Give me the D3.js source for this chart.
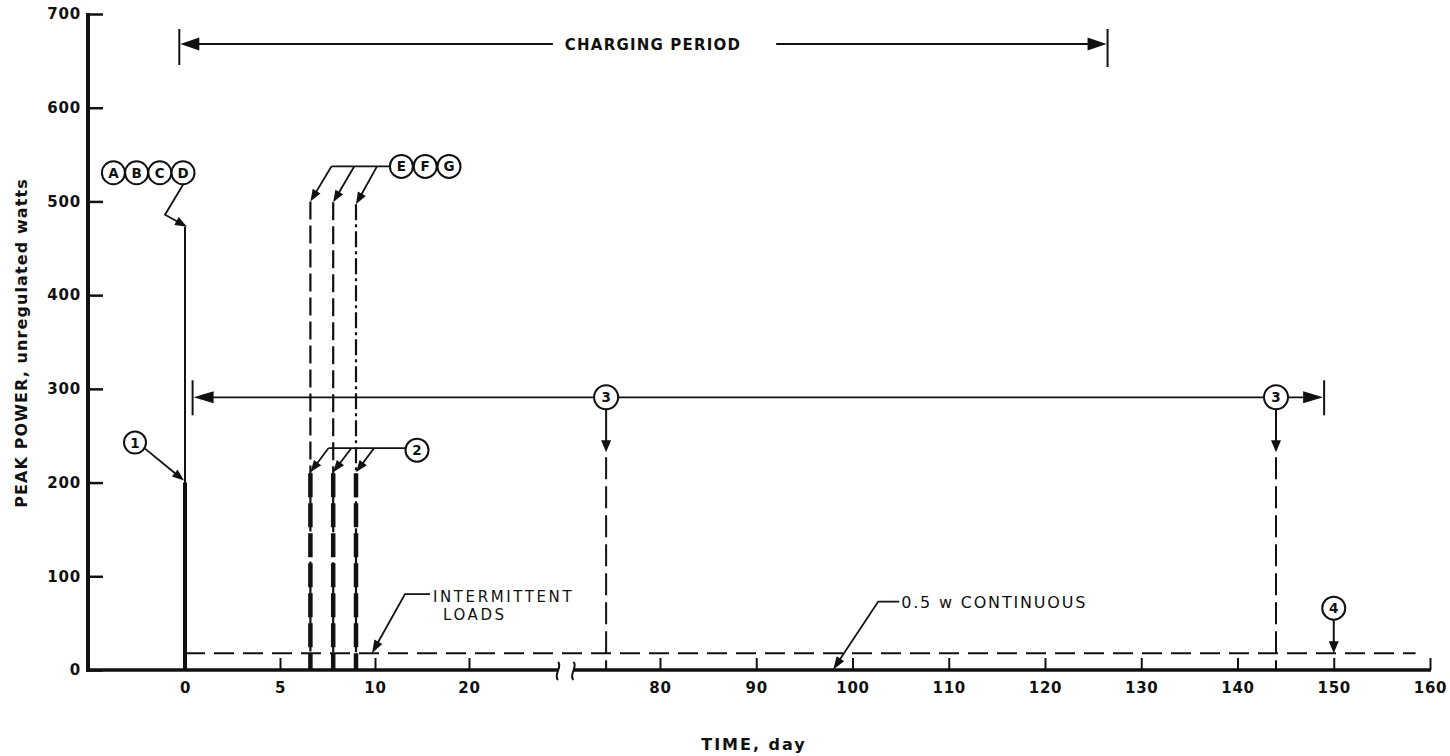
<!DOCTYPE html>
<html>
<head>
<meta charset="utf-8">
<script src="https://cdn.jsdelivr.net/npm/d3@7"></script>
<style>
  html, body { margin: 0; padding: 0; background: #fff; }
  svg { display: block; }
</style>
</head>
<body>
<svg id="chart" width="1450" height="756"></svg>
<script>
// ---- axis ticks ----
const yTickValues = [0, 100, 200, 300, 400, 500, 600, 700];
const xTickValues = [0, 5, 10, 20, 80, 90, 100, 110, 120, 130, 140, 150, 160];
// breakpoints (day) of the stretched / broken time axis
const xBreakDays = [0, 10, 20, 29.5, 71, 80, 160];

// ---- power profile (day, watts) ----
const launchDay = [0];
const launchPeak = [473];          // A B C D
const launchBatteryPeak = [200];   // 1
const loadDays = [6.6, 7.8, 9.0];  // E F G
const loadPeaks = [500, 499, 497];
const loadBatteryPeaks = [210, 210, 210]; // 2
const chargingSpan = [-0.3, 126.5];
const chargingLevel = [668];
const item3Span = [0.4, 149];
const item3Level = [291];
const item3Days = [74.4, 144];
const item4Day = [150];
const intermittentSpan = [0, 158.5];
const intermittentLevel = [18];
const continuousLevel = [0.5];
const continuousPointerDay = [98];

const INK = "#111";
const FONT = "'DejaVu Sans', 'Liberation Sans', sans-serif";

const svg = d3.select("#chart");
const x = d3.scaleLinear().domain(xBreakDays).range([185, 375, 469, 558, 573.4, 660, 1430]);
const y = d3.scaleLinear().domain([0, 700]).range([670, 14]);
const AX = 88;

// ---- helpers ----
function line(g, x1, y1, x2, y2, w, dash) {
  const l = g.append("line").attr("x1", x1).attr("y1", y1).attr("x2", x2).attr("y2", y2)
    .attr("stroke", INK).attr("stroke-width", w).attr("stroke-linecap", "butt");
  if (dash) l.attr("stroke-dasharray", dash);
  return l;
}
function head(g, tx, ty, fx, fy, len, hw) {
  const dx = tx - fx, dy = ty - fy, d = Math.hypot(dx, dy);
  const ux = dx / d, uy = dy / d;
  const bx = tx - ux * len, by = ty - uy * len;
  g.append("path")
    .attr("d", `M${tx},${ty}L${bx - uy * hw},${by + ux * hw}L${bx + uy * hw},${by - ux * hw}Z`)
    .attr("fill", INK);
}
function arrow(g, pts, w, len, hw) {
  len = len || 12; hw = hw || 4.5;
  const n = pts.length;
  const [tx, ty] = pts[n - 1], [fx, fy] = pts[n - 2];
  const d = Math.hypot(tx - fx, ty - fy);
  const sx = tx - (tx - fx) / d * (len - 2), sy = ty - (ty - fy) / d * (len - 2);
  const p = pts.slice(0, n - 1).concat([[sx, sy]]);
  g.append("path").attr("d", d3.line()(p)).attr("fill", "none")
    .attr("stroke", INK).attr("stroke-width", w || 1.8).attr("stroke-linejoin", "miter");
  head(g, tx, ty, fx, fy, len, hw);
}
function badge(g, cx, cy, txt, r) {
  r = r || 11.5;
  g.append("circle").attr("cx", cx).attr("cy", cy).attr("r", r)
    .attr("fill", "#fff").attr("stroke", INK).attr("stroke-width", 2);
  g.append("text").attr("x", cx).attr("y", cy + 5).attr("text-anchor", "middle")
    .style("font-family", FONT).style("font-size", "13.5px").style("font-weight", "bold")
    .style("fill", INK).text(txt);
}
function label(g, tx, ty, txt, size, weight, spacing, anchor) {
  return g.append("text").attr("x", tx).attr("y", ty)
    .attr("text-anchor", anchor || "start")
    .style("font-family", FONT).style("font-size", size + "px")
    .style("font-weight", weight).style("letter-spacing", (spacing || 0) + "px")
    .style("fill", INK).text(txt);
}

// ---- axes ----
const gy = svg.append("g").attr("transform", `translate(${AX},0)`)
  .call(d3.axisLeft(y).tickValues(yTickValues).tickSize(-15).tickPadding(7).tickFormat(d3.format("d")));
gy.select(".domain").remove();
gy.selectAll(".tick line").attr("stroke", INK).attr("stroke-width", 2.5);
gy.selectAll(".tick text").style("font-family", FONT).style("font-size", "15px")
  .style("font-weight", "bold").style("letter-spacing", "0.8px").style("fill", INK);

const gx = svg.append("g").attr("transform", `translate(0,${y(0)})`)
  .call(d3.axisBottom(x).tickValues(xTickValues).tickSize(-12).tickPadding(12).tickFormat(d3.format("d")));
gx.select(".domain").remove();
gx.selectAll(".tick line").attr("stroke", INK).attr("stroke-width", 2);
gx.selectAll(".tick text").style("font-family", FONT).style("font-size", "15px")
  .style("font-weight", "bold").style("letter-spacing", "0.8px").style("fill", INK);

const axes = svg.append("g");
line(axes, AX, y(700) - 1, AX, y(0) + 2, 4);
line(axes, AX, y(0), x(29.5), y(0), 3.5);
line(axes, x(71), y(0), x(160) + 1, y(0), 3.5);
// break marks on the time axis
[x(29.5), x(71)].forEach(bx => {
  axes.append("path")
    .attr("d", `M${bx},${y(0) - 8}C${bx + 5},${y(0) - 4} ${bx - 5},${y(0) + 5} ${bx},${y(0) + 10}`)
    .attr("fill", "none").attr("stroke", INK).attr("stroke-width", 2);
});

// axis titles
label(svg, 0, 0, "PEAK POWER, unregulated watts", 16, "bold", 1.1, "middle")
  .attr("transform", "translate(27,343) rotate(-90)");
label(svg, 754, 750, "TIME, day", 16, "bold", 2, "middle");

const g = svg.append("g");

// ---- launch pulse (day 0) ----
const x0 = x(launchDay[0]);
line(g, x0, y(0) + 1, x0, y(launchPeak[0]), 2);
line(g, x0, y(0) + 1, x0, y(launchBatteryPeak[0]), 4);

// ---- intermittent load level ----
line(g, x(intermittentSpan[0]), y(intermittentLevel[0]), x(intermittentSpan[1]), y(intermittentLevel[0]), 2, "20,9");

// ---- load events E F G ----
const thinDash = ["18,6", "18,6", "16,4,3,4"];
loadDays.forEach((d, i) => {
  line(g, x(d), y(loadPeaks[i]), x(d), y(0), 2.2, thinDash[i]);
  line(g, x(d), y(loadBatteryPeaks[i]), x(d), y(0) + 1, 4.5, "24,6");
});

// ---- charging period ----
const yc = y(chargingLevel[0]);
const cL = x(chargingSpan[0]), cR = x(chargingSpan[1]);
line(g, cL, yc - 15, cL, yc + 21, 2);
line(g, cR, yc - 15, cR, yc + 23, 2);
const ct = label(g, 653, yc + 6, "CHARGING PERIOD", 15, "bold", 1.2, "middle");
const cb = ct.node().getBBox();
line(g, cL + 10, yc, cb.x - 12, yc, 2);
line(g, cb.x + cb.width + 35, yc, cR - 10, yc, 2);
head(g, cL + 1, yc, cL + 30, yc, 19, 6.5);
head(g, cR - 1, yc, cR - 30, yc, 19, 6.5);

// ---- item 3 span ----
const y3 = y(item3Level[0]);
const s3L = x(item3Span[0]), s3R = x(item3Span[1]);
line(g, s3L, y3 - 17, s3L, y3 + 18, 2);
line(g, s3R, y3 - 17, s3R, y3 + 18, 2);
line(g, s3L + 12, y3, s3R - 12, y3, 1.8);
head(g, s3L + 1, y3, s3L + 30, y3, 20, 6);
head(g, s3R - 1, y3, s3R - 30, y3, 20, 6);
item3Days.forEach(d => {
  const cx = x(d);
  arrow(g, [[cx, y3 + 12], [cx, y3 + 55]], 2, 12, 5);
  line(g, cx, y3 + 60, cx, y(0) + 1, 2, "22,7");
  badge(g, cx, y3, "3", 12);
});

// ---- item 4 ----
const x4 = x(item4Day[0]);
const yi = y(intermittentLevel[0]);
arrow(g, [[x4, yi - 33], [x4, yi]], 2, 12, 5);
badge(g, x4, yi - 45, "4", 11.5);

// ---- callouts ----
// A B C D
const yA = y(launchPeak[0]);
arrow(g, [[x0 - 2, yA - 42], [x0 - 20, yA - 12], [x0 + 2, yA]], 1.8, 12, 4.5);
["A", "B", "C", "D"].forEach((t, i) => badge(g, x0 - 2 - 23.2 * (3 - i), yA - 54, t, 11.5));

// 1
const y1 = y(launchBatteryPeak[0]);
arrow(g, [[x0 - 40, y1 - 34], [x0 - 1, y1 - 2]], 1.8, 12, 4.5);
badge(g, x0 - 50, y1 - 40, "1", 11);

// E F G
const yE = y(loadPeaks[0]) - 35;
line(g, x(loadDays[0]) + 21, yE, x(loadDays[0]) + 80, yE, 1.8);
loadDays.forEach((d, i) => arrow(g, [[x(d) + 21, yE], [x(d), y(loadPeaks[i])]], 1.8, 12, 4.5));
["E", "F", "G"].forEach((t, i) => badge(g, x(loadDays[0]) + 91 + 23.8 * i, yE, t, 11.5));

// 2
const y2 = y(loadBatteryPeaks[0]) - 25;
line(g, x(loadDays[0]) + 18, y2, x(loadDays[2]) + 50, y2, 1.8);
loadDays.forEach((d, i) => arrow(g, [[x(d) + 18, y2], [x(d), y(loadBatteryPeaks[i]) - 1]], 1.8, 12, 4.5));
badge(g, x(loadDays[2]) + 61, y2 + 2, "2", 11.5);

// intermittent loads
const xI = x(loadDays[2]) + 16;
arrow(g, [[xI + 58, yi - 59], [xI + 33, yi - 59], [xI, yi]], 1.8, 13, 4.5);
label(g, xI + 61, yi - 51, "INTERMITTENT", 15, "normal", 2.6);
label(g, xI + 71, yi - 33, "LOADS", 15, "normal", 2.6);

// 0.5 w continuous
const xc = x(continuousPointerDay[0]);
const ycn = y(continuousLevel[0]);
arrow(g, [[xc + 66, ycn - 68], [xc + 45, ycn - 68], [xc, ycn]], 1.8, 13, 4.5);
label(g, xc + 68, ycn - 62, "0.5 w CONTINUOUS", 16, "normal", 1.8);
</script>
</body>
</html>
